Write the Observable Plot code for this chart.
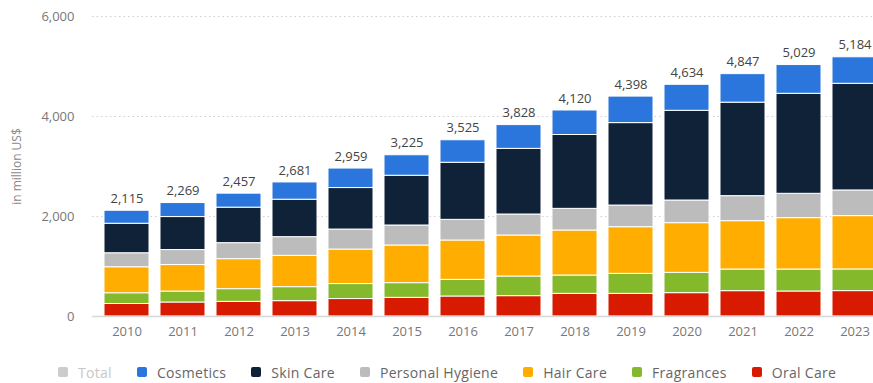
<!DOCTYPE html>
<html><head><meta charset="utf-8">
<script src="https://cdn.jsdelivr.net/npm/d3@7"></script>
<script src="https://cdn.jsdelivr.net/npm/@observablehq/plot@0.6"></script>
<style>
html,body{margin:0;background:#fff;overflow:hidden;}
body{font-family:"Open Sans",sans-serif;width:873px;height:383px;}
#legend{display:flex;align-items:center;padding-left:58px;margin-top:14px;height:16px;}
.item{display:flex;align-items:center;margin-right:25px;font-size:14px;letter-spacing:0.3px;color:#666;white-space:nowrap;}
.sw{width:10px;height:10px;border-radius:2px;margin-right:10px;}
</style></head><body><div id="chart"></div><div id="legend"></div>
<script>
const years = [2010,2011,2012,2013,2014,2015,2016,2017,2018,2019,2020,2021,2022,2023];
const totals = [2115,2269,2457,2681,2959,3225,3525,3828,4120,4398,4634,4847,5029,5184];
const oralCare = [250,280,293,307,349,373,400,407,453,453,467,507,500,508];
const fragrances = [215,219,254,280,300,294,333,393,367,400,406,433,440,433];
const hairCare = [520,530,600,626,690,753,787,820,900,933,994,967,1027,1067];
const personalHygiene = [280,300,320,374,400,400,413,420,433,433,453,500,487,513];
const skinCare = [590,660,710,749,830,995,1142,1313,1477,1649,1794,1870,2000,2133];
const cosmetics = [260,280,280,345,390,410,450,475,490,530,520,570,575,530];
const yTicks = [0,2000,4000,6000];

const seriesNames = ["Oral Care","Fragrances","Hair Care","Personal Hygiene","Skin Care","Cosmetics"];
const seriesValues = [oralCare,fragrances,hairCare,personalHygiene,skinCare,cosmetics];
const seriesColors = ["#d71a00","#84b92c","#ffad00","#bcbcbc","#0f2238","#2a76dc"];

const rows = [];
years.forEach((yr,i)=>{
  seriesNames.forEach((s,j)=>rows.push({year:String(yr),cat:s,value:seriesValues[j][i]}));
});
const totRows = years.map((yr,i)=>({year:String(yr),total:totals[i]}));

const chart = Plot.plot({
  width:873, height:350,
  marginLeft:92, marginRight:0, marginTop:16, marginBottom:34,
  style:{fontFamily:"Open Sans, sans-serif", fontSize:"13px", color:"#666", background:"#fff", overflow:"hidden"},
  x:{type:"band", domain:years.map(String), range:[92.6,887.8], paddingInner:0.2, paddingOuter:0.1, axis:null, label:null},
  y:{domain:[0,6000], range:[316,16], axis:null, label:null},
  color:{domain:seriesNames, range:seriesColors},
  marks:[
    Plot.ruleY(yTicks.filter(d=>d>0), {stroke:"#cfcfcf", strokeDasharray:"1.5,3"}),
    Plot.barY(rows, {x:"year", y:"value", fill:"cat", stroke:"white", strokeWidth:1}),
    Plot.ruleY([0], {stroke:"#d8d8d8", strokeWidth:1.5}),
    Plot.axisY(yTicks, {tickSize:0, tickPadding:18, tickFormat:d3.format(","), fill:"#777", label:null}),
    Plot.axisX(years.map(String), {tickSize:0, tickPadding:10, fill:"#777", label:null}),
    Plot.text(totRows, {x:"year", y:"total", text:d=>d3.format(",")(d.total), dy:-12, fill:"#444", fontSize:13}),
    Plot.text(["in million US$"], {frameAnchor:"left", dx:-75, rotate:-90, textAnchor:"middle", fill:"#888", fontSize:12})
  ]
});
document.getElementById("chart").appendChild(chart);

const legendItems = [["Total","#cccccc",true]].concat(
  ["Cosmetics","Skin Care","Personal Hygiene","Hair Care","Fragrances","Oral Care"].map(n=>[n, seriesColors[seriesNames.indexOf(n)], false]));
const lg = document.getElementById("legend");
legendItems.forEach(([n,c,off])=>{
  const it=document.createElement("div"); it.className="item";
  const sw=document.createElement("div"); sw.className="sw"; sw.style.background=c;
  const tx=document.createElement("span"); tx.textContent=n; if(off) tx.style.color="#c8c8c8";
  it.appendChild(sw); it.appendChild(tx); lg.appendChild(it);
});
</script>
</body></html>
